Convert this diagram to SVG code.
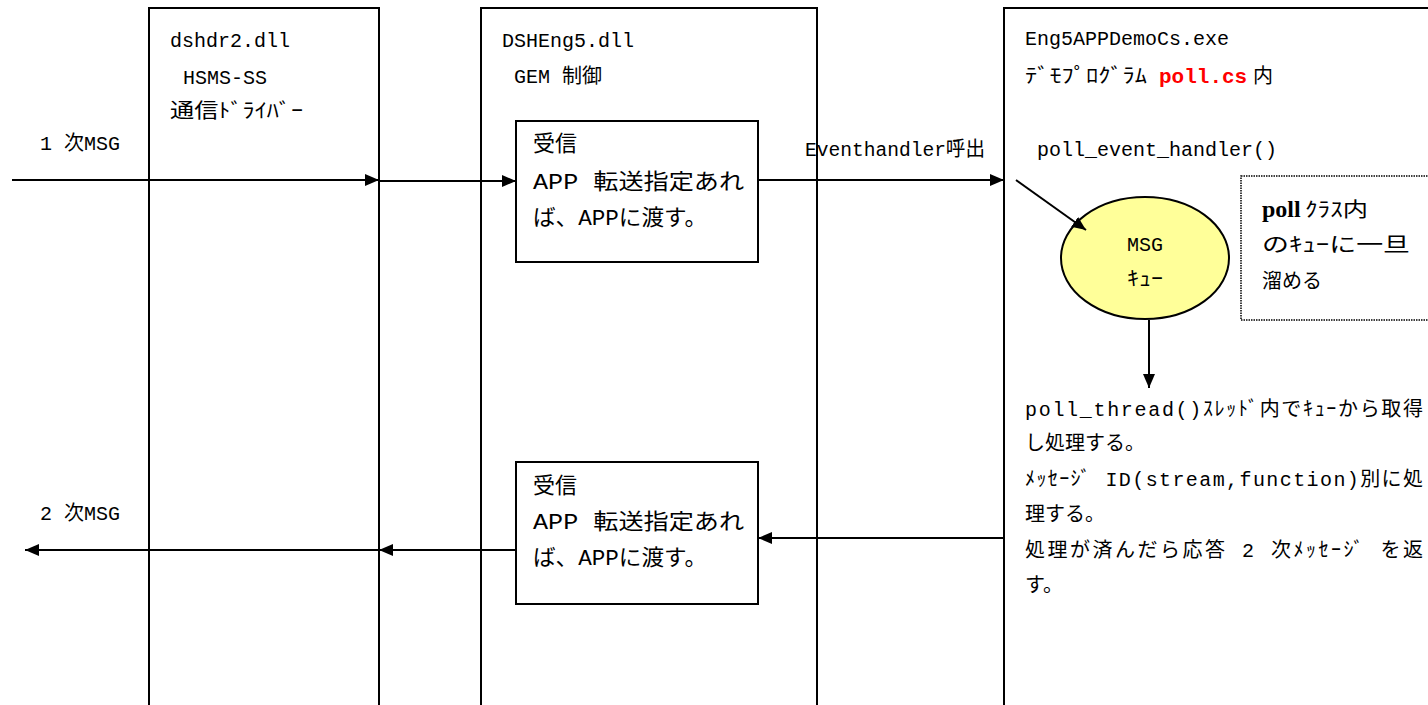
<svg xmlns="http://www.w3.org/2000/svg" width="1428" height="705" viewBox="0 0 1428 705">
<style>
.t{font-family:"Liberation Mono","Noto Sans CJK JP",monospace;font-size:20px;fill:#000}
.j{font-family:"Liberation Mono","Noto Sans CJK JP",monospace;font-size:22px;fill:#000}
.box{fill:none;stroke:#000;stroke-width:2}
.ln{stroke:#000;stroke-width:2;fill:none;marker-end:url(#ah)}
</style>
<defs>
<marker id="ah" viewBox="0 0 14 12" refX="14" refY="6" markerWidth="14" markerHeight="12" markerUnits="userSpaceOnUse" orient="auto">
<path d="M0,0 L14,6 L0,12 Z" fill="#000"/>
</marker>
</defs>
<rect width="1428" height="705" fill="#fff"/>

<g id="dshdr2">
<rect class="box" x="149" y="8" width="230" height="710"/>
<text class="t" x="170" y="47">dshdr2.dll</text>
<text class="t" x="183" y="84">HSMS-SS</text>
<text class="t" x="170" y="118" textLength="133" lengthAdjust="spacingAndGlyphs">通信ﾄﾞﾗｲﾊﾞｰ</text>
</g>

<g id="dsheng5">
<rect class="box" x="481" y="8" width="336" height="710"/>
<text class="t" x="502" y="47">DSHEng5.dll</text>
<text class="t" x="514" y="83">GEM 制御</text>
</g>

<g id="recv-top">
<rect class="box" x="516" y="121" width="242" height="141" fill="#fff"/>
<text class="j" x="533" y="151">受信</text>
<text class="j" x="533" y="189" textLength="211" lengthAdjust="spacingAndGlyphs">APP 転送指定あれ</text>
<text class="j" x="533" y="225" textLength="174" lengthAdjust="spacingAndGlyphs">ば、APPに渡す。</text>
</g>

<g id="recv-bottom">
<rect class="box" x="516" y="462" width="242" height="142" fill="#fff"/>
<text class="j" x="533" y="493">受信</text>
<text class="j" x="533" y="529" textLength="211" lengthAdjust="spacingAndGlyphs">APP 転送指定あれ</text>
<text class="j" x="533" y="565" textLength="174" lengthAdjust="spacingAndGlyphs">ば、APPに渡す。</text>
</g>

<g id="eng5app">
<rect class="box" x="1004" y="8" width="440" height="710"/>
<text class="t" x="1025" y="45">Eng5APPDemoCs.exe</text>
<text class="t" x="1025" y="83"><tspan textLength="122" lengthAdjust="spacingAndGlyphs">ﾃﾞﾓﾌﾟﾛｸﾞﾗﾑ</tspan><tspan x="1159" fill="#ff0000" font-weight="bold" font-size="21">poll.cs</tspan><tspan x="1253">内</tspan></text>
<text class="t" x="1037" y="156">poll_event_handler()</text>
<text class="t" x="1025" y="416" font-size="21" textLength="398" lengthAdjust="spacing">poll_thread()ｽﾚｯﾄﾞ内でｷｭｰから取得</text>
<text class="t" x="1025" y="450" font-size="21">し処理する。</text>
<text class="t" x="1025" y="486" font-size="21" textLength="398" lengthAdjust="spacing">ﾒｯｾｰｼﾞ ID(stream,function)別に処</text>
<text class="t" x="1025" y="521" font-size="21">理する。</text>
<text class="t" x="1025" y="557" font-size="21" textLength="398" lengthAdjust="spacing">処理が済んだら応答 2 次ﾒｯｾｰｼﾞ を返</text>
<text class="t" x="1025" y="592" font-size="21">す。</text>
</g>

<g id="msg-queue">
<ellipse cx="1145" cy="258" rx="84" ry="61" fill="#ffff99" stroke="#000" stroke-width="2"/>
<text class="t" x="1145" y="251" text-anchor="middle" font-size="18" textLength="36" lengthAdjust="spacingAndGlyphs">MSG</text>
<text class="t" x="1145" y="286" text-anchor="middle" font-size="18" textLength="36" lengthAdjust="spacingAndGlyphs">ｷｭｰ</text>
</g>

<g id="poll-note">
<rect x="1241" y="176" width="200" height="144" fill="#fff" stroke="#000" stroke-width="1.5" stroke-dasharray="1.5 1"/>
<text x="1262" y="217" font-family="Liberation Serif,serif" font-weight="bold" font-size="24" fill="#000">poll</text>
<text class="t" x="1305" y="217" textLength="63" lengthAdjust="spacingAndGlyphs" font-size="22">ｸﾗｽ内</text>
<text class="t" x="1262" y="252" font-size="24" textLength="148" lengthAdjust="spacingAndGlyphs">のｷｭｰに一旦</text>
<text class="t" x="1262" y="288" font-size="24">溜める</text>
</g>

<g id="labels">
<text class="t" x="40" y="150">1 次MSG</text>
<text class="t" x="40" y="520">2 次MSG</text>
<text class="t" x="805" y="156" font-size="18" textLength="180" lengthAdjust="spacingAndGlyphs">Eventhandler呼出</text>
</g>

<g id="connectors">
<line class="ln" x1="12" y1="180" x2="379" y2="180"/>
<line class="ln" x1="379" y1="181" x2="516" y2="181"/>
<line class="ln" x1="758" y1="180" x2="1004" y2="180"/>
<line class="ln" x1="1016" y1="180" x2="1086" y2="230"/>
<line class="ln" x1="1149" y1="320" x2="1149" y2="388"/>
<line class="ln" x1="1004" y1="538" x2="758" y2="538"/>
<line class="ln" x1="516" y1="550" x2="379" y2="550"/>
<line class="ln" x1="379" y1="550" x2="25" y2="550"/>
</g>
</svg>
